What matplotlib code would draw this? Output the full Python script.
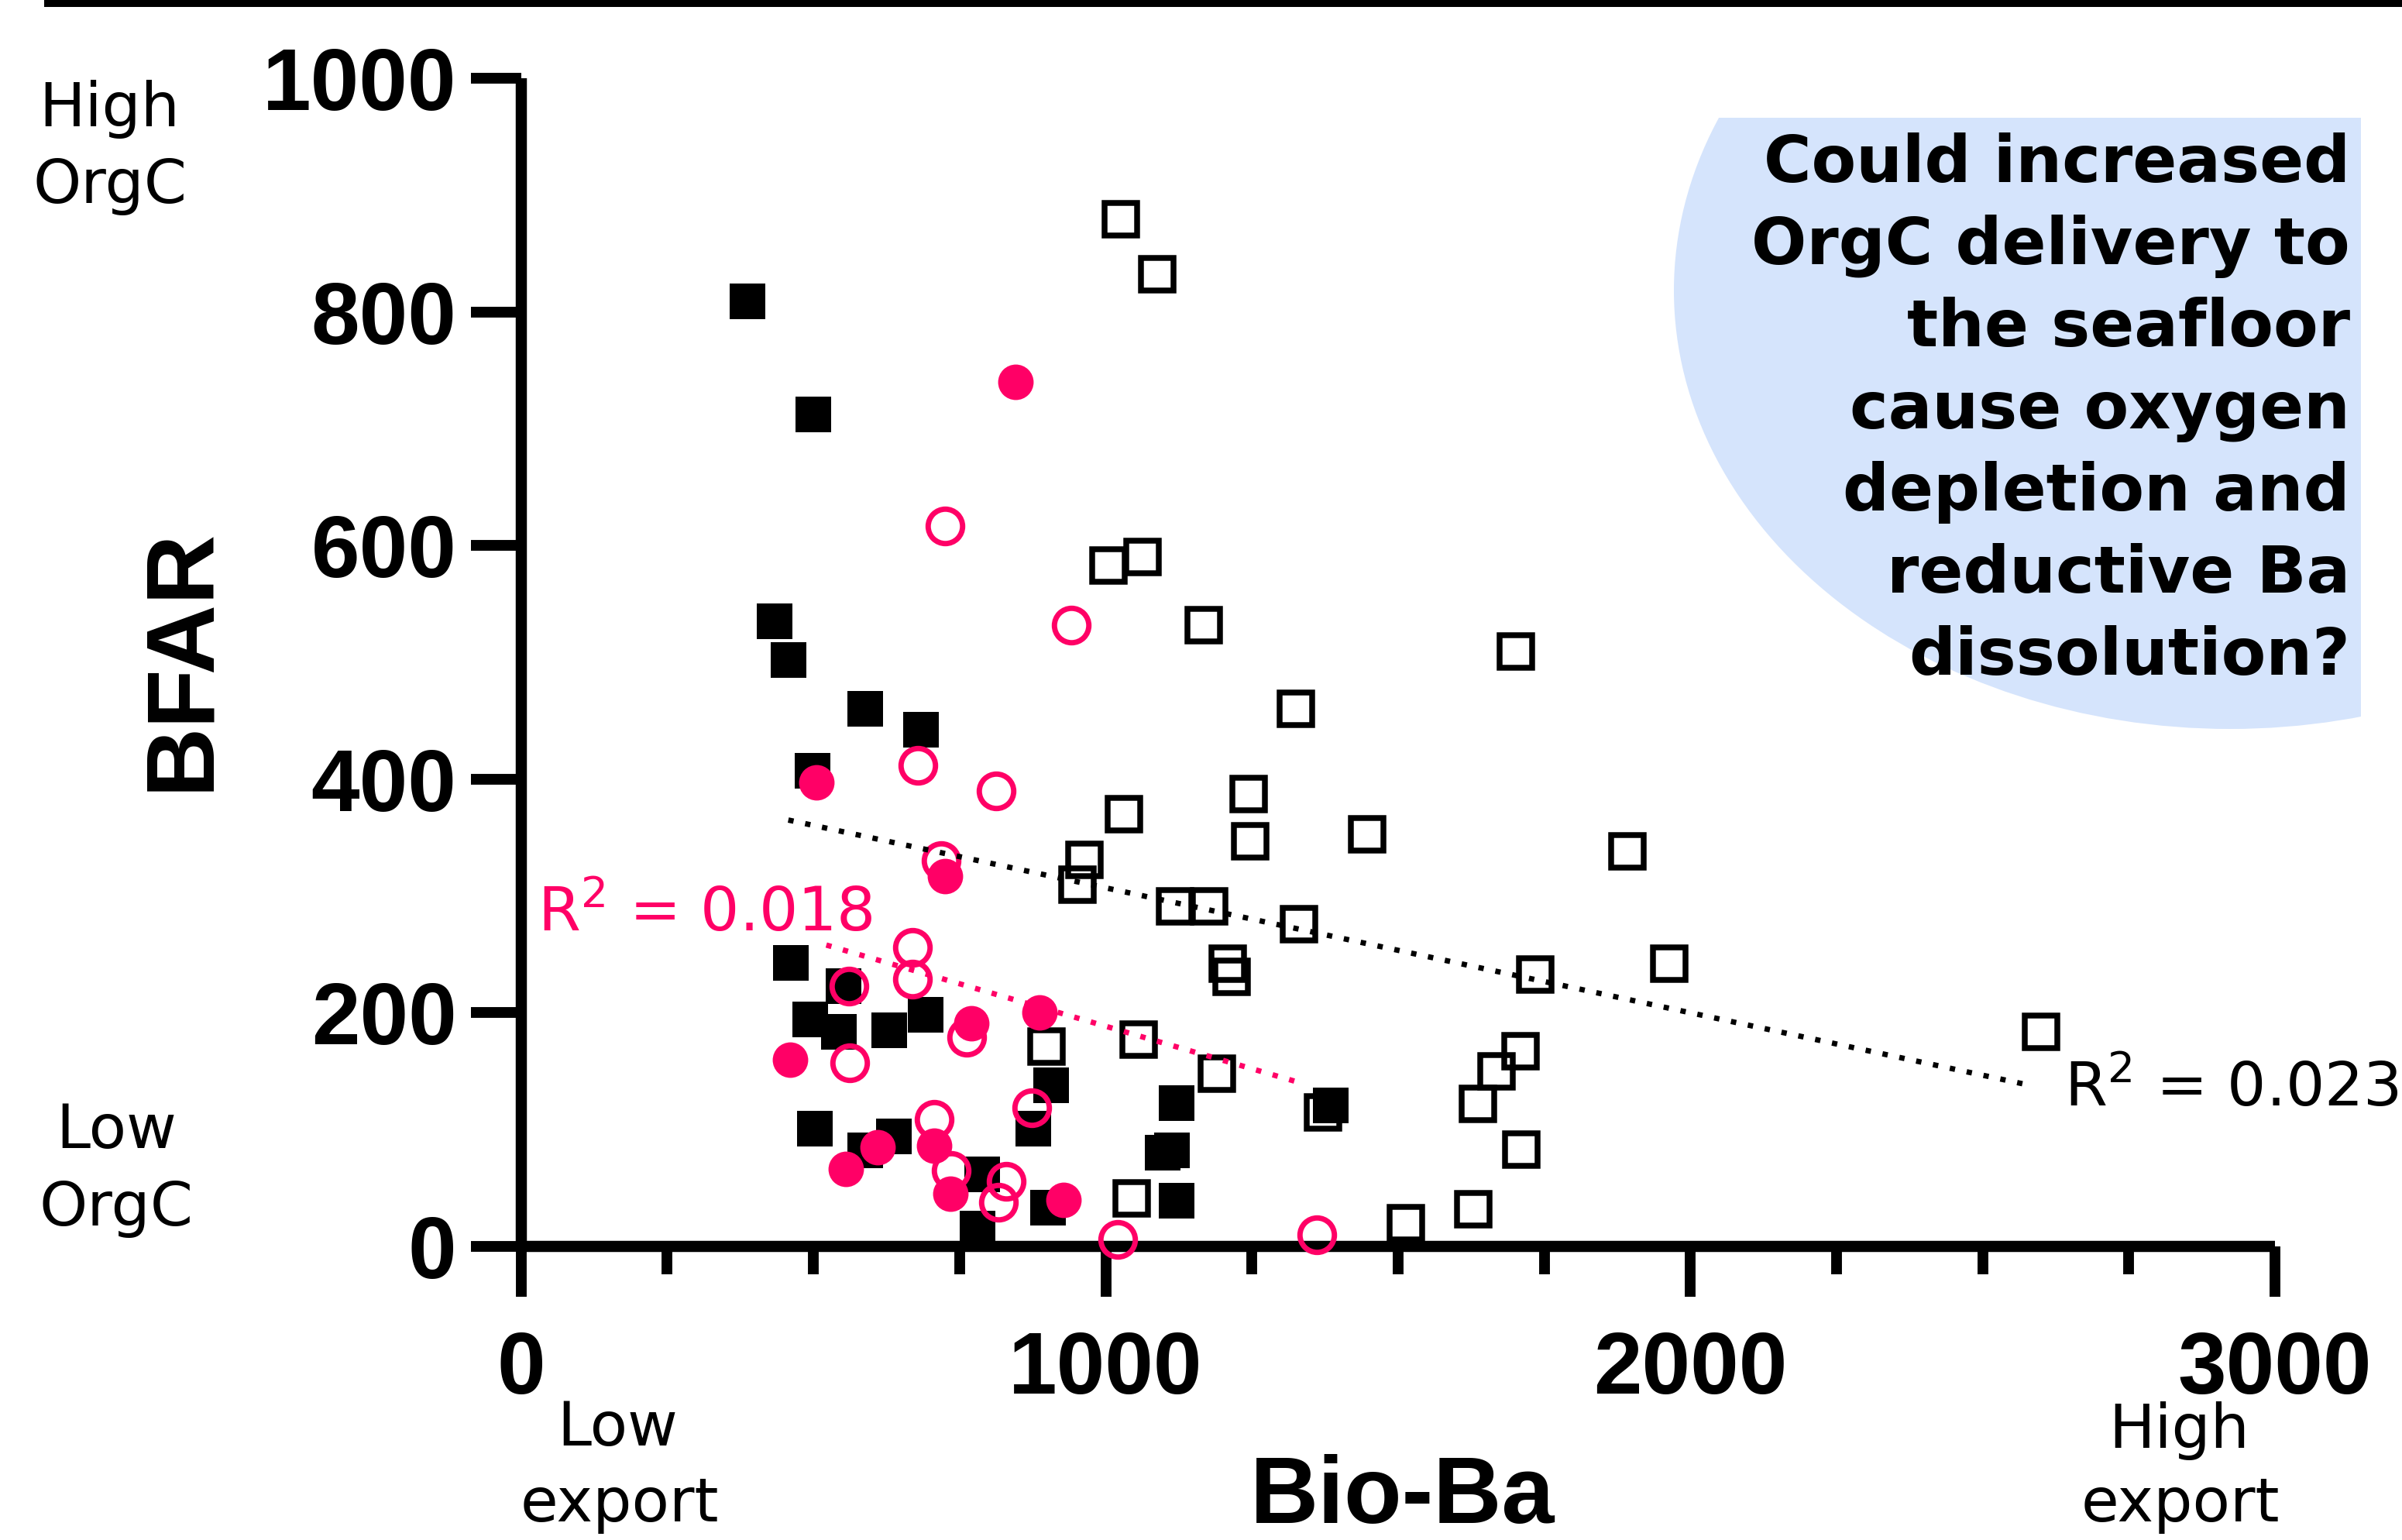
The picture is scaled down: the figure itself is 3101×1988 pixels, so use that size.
import numpy as np
import matplotlib
matplotlib.use("Agg")
import matplotlib.pyplot as plt
from matplotlib.patches import Ellipse, Rectangle

# data
# black filled squares
fsq_x = [387, 500, 434, 458, 589, 684, 499, 462, 552, 494, 543, 630, 692, 906, 876, 502, 589, 638, 788, 781, 901, 1121, 1113, 1097, 1121, 1385]
fsq_y = [809, 712, 535, 502, 460, 442, 407, 243, 223, 194, 184, 185, 198, 138, 101, 101, 82, 94, 62, 15, 33, 123, 82, 80, 39, 121]
# black open squares
osq_x = [1026, 1088, 1004, 1063, 1167, 1702, 1325, 1244, 1031, 1247, 1447, 963, 951, 1118, 1177, 1330, 1892,
         1209, 1215, 1964, 1735, 2600, 899, 1056, 1710, 1669, 1190, 1637, 1372, 1711, 1045, 1629, 1513]
osq_y = [879, 832, 583, 590, 532, 509, 460, 387, 370, 347, 353, 331, 310, 291, 291, 276, 338,
         242, 231, 242, 233, 184, 171, 177, 167, 150, 148, 122, 115, 83, 41, 32, 20]
# pink filled circles
fci_x = [845, 505, 725, 887, 770, 460, 610, 555, 707, 734, 928]
fci_y = [740, 397, 317, 200, 191, 160, 85, 66, 86, 45, 40]
# pink open circles
oci_x = [725, 941, 679, 812, 718, 669, 561, 670, 762, 562, 707, 874, 735, 830, 817, 1021, 1361]
oci_y = [617, 532, 412, 390, 330, 256, 223, 229, 179, 157, 109, 119, 65, 56, 38, 6, 10]

# trend lines (end points)
black_fit_x = [457, 2580]
black_fit_y = [365, 138]
pink_fit_x = [522, 1340]
pink_fit_y = [258, 139]
r2_black = "0.023"
r2_pink = "0.018"

question = ["Could increased", "OrgC delivery to", "the seafloor",
            "cause oxygen", "depletion and", "reductive Ba", "dissolution?"]

PINK = "#FF0066"
BLUE = "#D5E4FC"
W, H = 3101, 1988

fig = plt.figure(figsize=(W / 100, H / 100), dpi=100)

def fx(px):
    return px / W

def fy(py):
    return 1 - py / H

ax = fig.add_axes([fx(672.8), fy(1609), fx(2937) - fx(672.8), fy(101) - fy(1609)])
ax.patch.set_visible(False)

# background blob with the question
blob = Ellipse((fx(2879), fy(375)), 2 * 718 / W, 2 * 566 / H, transform=fig.transFigure,
               facecolor=BLUE, edgecolor="none", zorder=-1)
fig.add_artist(blob)
blob.set_clip_path(Rectangle((0, 0), fx(3048), fy(152), transform=fig.transFigure))

for i, line in enumerate(question):
    fig.text(fx(3034), fy(235 + 106 * i), line, ha="right", va="baseline",
             fontsize=60.5, fontweight="bold", family="DejaVu Sans", zorder=5)

# top rule
fig.add_artist(Rectangle((fx(57), fy(9)), 1, 9 / H, transform=fig.transFigure,
                         facecolor="black", edgecolor="none"))

ax.plot(osq_x, osq_y, "s", ms=30, mfc="none", mec="black", mew=5.4, clip_on=False, zorder=3)
ax.plot(fsq_x, fsq_y, "s", ms=33, color="black", mew=0, clip_on=False, zorder=4)
ax.plot(oci_x, oci_y, "o", ms=32, mfc="none", mec=PINK, mew=5, clip_on=False, zorder=5)
ax.plot(fci_x, fci_y, "o", ms=33, color=PINK, mew=0, clip_on=False, zorder=6)

ax.plot(black_fit_x, black_fit_y, color="black", lw=5, ls=(0, (1, 2.2)), zorder=7)
ax.plot(pink_fit_x, pink_fit_y, color=PINK, lw=5, ls=(0, (1, 2.2)), zorder=7)

ax.text(28, 270, "R$^2$ = " + r2_pink, color=PINK, fontsize=57, ha="left", va="baseline")
ax.text(2640, 120, "R$^2$ = " + r2_black, color="black", fontsize=57, ha="left",
        va="baseline", clip_on=False)

ax.set_xlim(0, 3000)
ax.set_ylim(0, 1000)
ax.set_xticks([0, 1000, 2000, 3000])
ax.set_xticks(np.arange(0, 3001, 250), minor=True)
ax.set_yticks(np.arange(0, 1001, 200))

for s in ["top", "right"]:
    ax.spines[s].set_visible(False)
for s in ["left", "bottom"]:
    ax.spines[s].set_linewidth(10.4)
    ax.spines[s].set_capstyle("butt")

ax.tick_params(axis="x", which="major", length=47, width=10, pad=31)
ax.tick_params(axis="x", which="minor", length=26, width=10)
ax.tick_params(axis="y", which="major", length=47, width=10, pad=13)
for lab in ax.get_xticklabels() + ax.get_yticklabels():
    lab.set_fontfamily("Liberation Sans")
    lab.set_fontweight("bold")
    lab.set_fontsize(81)

# axis titles
fig.text(fx(268), fy(851), "BFAR", rotation=90, rotation_mode="anchor", ha="center",
         va="baseline", fontsize=90, fontweight="bold", family="Liberation Sans")
fig.text(fx(1811), fy(1966), "Bio-Ba", ha="center", va="baseline",
         fontsize=88, fontweight="bold", family="Liberation Sans")

# side notes
notes = [("High", 141, 163), ("OrgC", 142, 262), ("Low", 150, 1482), ("OrgC", 150, 1582),
         ("Low", 797, 1866), ("export", 800, 1964), ("High", 2813, 1869), ("export", 2815, 1964)]
for txt, x, y in notes:
    fig.text(fx(x), fy(y), txt, ha="center", va="baseline", fontsize=57, family="DejaVu Sans")

fig.savefig("out.png", dpi=100)
